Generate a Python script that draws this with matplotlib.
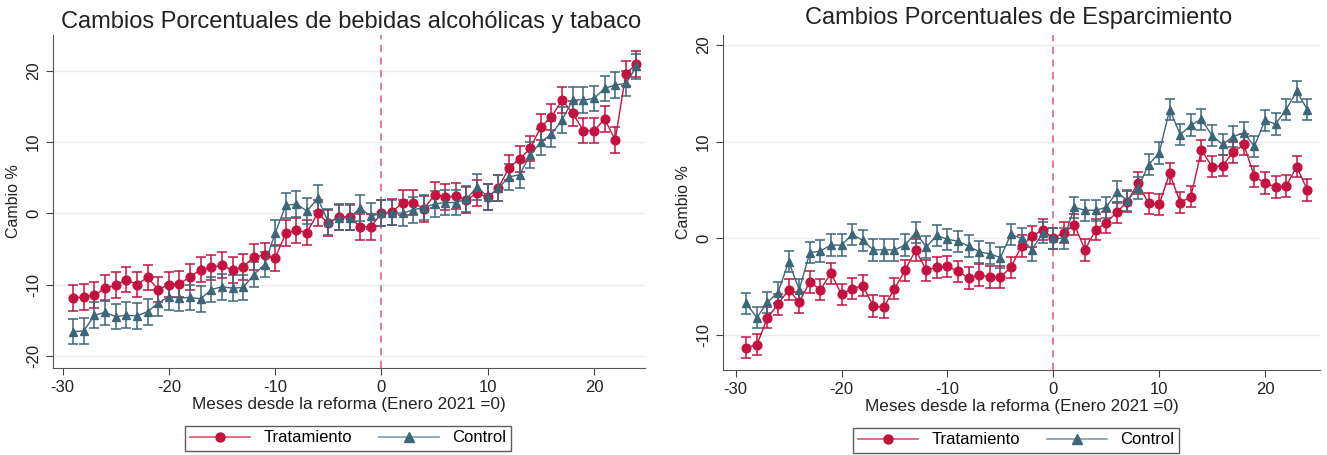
import numpy as np
import matplotlib
matplotlib.use('Agg')
import matplotlib.pyplot as plt
from matplotlib.lines import Line2D

plt.rcParams['font.family'] = ['Liberation Sans', 'DejaVu Sans']
plt.rcParams['axes.unicode_minus'] = False

# meses desde la reforma
meses = list(range(-29, 25))

# panel 1: bebidas alcohólicas y tabaco
alc_trat = [-11.9, -11.7, -11.5, -10.5, -10.1, -9.3, -10.0, -9.0, -10.7, -10.0,
            -9.9, -8.9, -7.9, -7.6, -7.3, -8.0, -7.5, -6.1, -5.9, -6.3,
            -2.8, -2.4, -2.7, 0.0, -1.4, -0.5, -0.5, -1.9, -1.9, 0.0,
            0.2, 1.5, 1.5, 0.6, 2.6, 2.3, 2.4, 1.9, 2.8, 2.3,
            3.5, 6.4, 7.6, 9.1, 12.1, 13.5, 15.9, 14.0, 11.6, 11.6,
            13.2, 10.3, 19.6, 20.9]
alc_ctrl = [-16.6, -16.5, -14.3, -13.9, -14.5, -14.3, -14.4, -13.8, -12.6, -11.7,
            -11.9, -11.8, -12.0, -10.7, -10.3, -10.5, -10.4, -8.6, -7.2, -2.8,
            1.1, 1.3, 0.3, 2.1, -1.2, -0.6, -0.6, 0.7, -0.4, 0.0,
            0.1, 0.0, 0.5, 0.8, 1.3, 1.5, 1.5, 2.0, 3.7, 2.3,
            3.5, 5.1, 5.4, 8.2, 10.0, 11.1, 13.1, 15.9, 15.9, 16.1,
            17.5, 18.0, 18.2, 20.6]

# panel 2: esparcimiento
esp_trat = [-11.3, -11.0, -8.2, -6.8, -5.3, -6.6, -4.5, -5.3, -3.6, -5.8,
            -5.2, -4.9, -7.0, -7.1, -5.2, -3.3, -1.2, -3.3, -3.0, -2.9,
            -3.4, -4.1, -3.8, -4.0, -4.0, -3.0, -0.8, 0.2, 0.9, 0.0,
            0.6, 1.4, -1.2, 0.9, 1.6, 2.7, 3.8, 5.7, 3.6, 3.5,
            6.7, 3.7, 4.3, 9.1, 7.4, 7.5, 8.9, 9.7, 6.4, 5.7,
            5.3, 5.4, 7.4, 5.0]
esp_ctrl = [-6.7, -8.2, -6.6, -5.6, -2.4, -5.3, -1.5, -1.3, -0.7, -0.7,
            0.4, -0.2, -1.2, -1.2, -1.2, -0.7, 0.6, -0.9, 0.3, -0.1,
            -0.3, -0.8, -1.4, -1.6, -2.0, 0.4, 0.0, -1.2, 0.6, 0.0,
            0.0, 3.2, 2.9, 2.9, 3.2, 4.8, 3.9, 5.2, 7.6, 8.8,
            13.3, 10.7, 11.7, 12.3, 10.6, 9.7, 10.5, 10.9, 9.5, 12.2,
            11.8, 13.3, 15.2, 13.3]

# semiancho aproximado de los intervalos
ic_alc = 1.8
ic_esp = 1.1

rojo = '#C4123E'
azul = '#3D6679'

W, H = 1327, 455
fig = plt.figure(figsize=(W / 100, H / 100), dpi=100)


def panel(l, r, t, b, titulo, tx, ty, trat, ctrl, ic, ylim, xlim, yticks, leg_xy):
    ax = fig.add_axes([l / W, 1 - b / H, (r - l) / W, (b - t) / H])
    ax.errorbar(meses, trat, yerr=ic, color=rojo, ecolor=rojo, elinewidth=1.1,
                capsize=3.5, capthick=1.1, marker='o', markersize=6.3, lw=1.0,
                zorder=3)
    ax.errorbar(meses, ctrl, yerr=ic, color=azul, ecolor=azul, elinewidth=1.1,
                capsize=3.5, capthick=1.1, marker='^', markersize=6.3, lw=1.0,
                zorder=3)
    ax.axvline(0, color='#E8708A', ls=(0, (4, 3)), lw=1.3, zorder=2)
    ax.set_xlim(*xlim)
    ax.set_ylim(*ylim)
    ax.set_xticks([-30, -20, -10, 0, 10, 20])
    ax.set_yticks(yticks)
    ax.set_yticklabels([str(v) for v in yticks], rotation=90, va='center')
    ax.tick_params(labelsize=12, length=5, color='#444', labelcolor='#222')
    ax.grid(axis='y', color='#ECECEC', lw=1.0, zorder=0)
    for s in ['top', 'right']:
        ax.spines[s].set_visible(False)
    for s in ['left', 'bottom']:
        ax.spines[s].set_color('#555')
    ax.set_ylabel('Cambio %', fontsize=11.5, color='#222')
    ax.set_xlabel('Meses desde la reforma (Enero 2021 =0)', fontsize=12.3,
                  color='#222', labelpad=1.5)
    fig.text(tx / W, 1 - ty / H, titulo, ha='center', va='center', fontsize=17,
             color='#222')
    handles = [Line2D([], [], color='#E0506E', marker='o', markerfacecolor=rojo,
                      markeredgecolor=rojo, markersize=6.5, lw=1.2),
               Line2D([], [], color='#7F9CAD', marker='^', markerfacecolor=azul,
                      markeredgecolor=azul, markersize=6.5, lw=1.2)]
    leg = fig.legend(handles, ['Tratamiento', 'Control'], loc='center',
                     bbox_to_anchor=(leg_xy[0] / W, 1 - leg_xy[1] / H),
                     ncol=2, fontsize=12, frameon=True, fancybox=False,
                     handlelength=3.6, columnspacing=1.6, borderpad=0.3)
    leg.get_frame().set_edgecolor('#333')
    leg.get_frame().set_linewidth(1.0)
    return ax


panel(53, 645, 35, 368, 'Cambios Porcentuales de bebidas alcohólicas y tabaco',
      351, 22, alc_trat, alc_ctrl, ic_alc, (-21.7, 25.0), (-30.9, 24.8),
      [-20, -10, 0, 10, 20], (348, 438))
panel(723, 1320, 35, 370, 'Cambios Porcentuales de Esparcimiento',
      1019, 18, esp_trat, esp_ctrl, ic_esp, (-13.6, 21.0), (-31.2, 25.2),
      [-10, 0, 10, 20], (1016, 440))

fig.savefig('out.png', dpi=100)
